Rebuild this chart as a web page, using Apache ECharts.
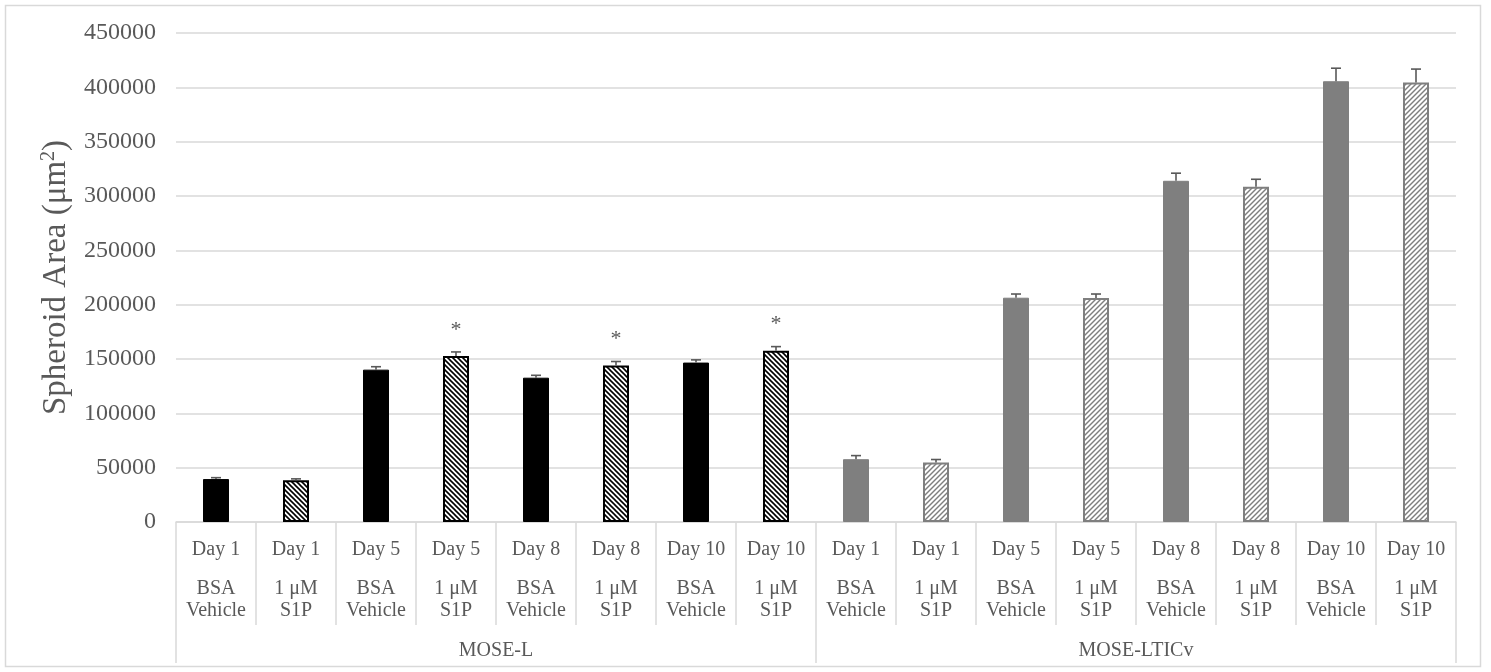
<!DOCTYPE html>
<html>
<head>
<meta charset="utf-8">
<title>Spheroid Area</title>
<script src="https://cdn.jsdelivr.net/npm/echarts@6/dist/echarts.min.js"></script>
<style>
  html, body { margin: 0; padding: 0; background: #fff; }
  #chart { width: 1491px; height: 672px; }
</style>
</head>
<body>
<div id="chart"></div>
<script>
// Spheroid area per day and treatment, for two cell lines
const days = ['Day 1', 'Day 1', 'Day 5', 'Day 5', 'Day 8', 'Day 8', 'Day 10', 'Day 10',
              'Day 1', 'Day 1', 'Day 5', 'Day 5', 'Day 8', 'Day 8', 'Day 10', 'Day 10'];
const treatments = ['BSA\nVehicle', '1 μM\nS1P', 'BSA\nVehicle', '1 μM\nS1P',
                    'BSA\nVehicle', '1 μM\nS1P', 'BSA\nVehicle', '1 μM\nS1P',
                    'BSA\nVehicle', '1 μM\nS1P', 'BSA\nVehicle', '1 μM\nS1P',
                    'BSA\nVehicle', '1 μM\nS1P', 'BSA\nVehicle', '1 μM\nS1P'];
const groups = ['MOSE-L', 'MOSE-LTICv'];
const groupOf = [0, 0, 0, 0, 0, 0, 0, 0, 1, 1, 1, 1, 1, 1, 1, 1];
const isS1P = [false, true, false, true, false, true, false, true,
               false, true, false, true, false, true, false, true];
const areaMean = [39500, 38500, 140200, 152800, 132800, 144000, 146700, 157700,
                  57800, 54700, 206400, 206100, 314000, 308600, 405600, 404400];
const areaErr = [1300, 1200, 2700, 3700, 2200, 3700, 2500, 3700,
                 3300, 2800, 3400, 3700, 7000, 6800, 12000, 12400];
const significant = [false, false, false, true, false, true, false, true,
                     false, false, false, false, false, false, false, false];
const yTicks = { min: 0, max: 450000, interval: 50000 };

const FONT = "'Liberation Serif', 'Times New Roman', serif";
const TEXT = '#595959';
const GRID_LINE = '#d9d9d9';

// diagonal hatch tile; dir 1 = "\" lines, dir -1 = "/" lines
function hatch(color, period, width, dir) {
  const c = document.createElement('canvas');
  c.width = period; c.height = period;
  const g = c.getContext('2d');
  g.fillStyle = '#fff';
  g.fillRect(0, 0, period, period);
  g.strokeStyle = color;
  g.lineWidth = width;
  for (let k = -1; k <= 1; k++) {
    const x0 = k * period;
    g.beginPath();
    if (dir > 0) {
      g.moveTo(x0 - 1, -1);
      g.lineTo(x0 + period + 1, period + 1);
    } else {
      g.moveTo(x0 - 1, period + 1);
      g.lineTo(x0 + period + 1, -1);
    }
    g.stroke();
  }
  return { image: c, repeat: 'repeat' };
}

const styles = [
  { plain: { color: '#000000', borderColor: '#000000', borderWidth: 1 },
    hatched: { color: hatch('#000000', 5, 1.6, 1), borderColor: '#000000', borderWidth: 2 } },
  { plain: { color: '#7f7f7f', borderColor: '#7f7f7f', borderWidth: 1 },
    hatched: { color: hatch('#7f7f7f', 5, 1.4, -1), borderColor: '#7f7f7f', borderWidth: 2 } }
];

const barData = areaMean.map((v, i) => ({
  value: v,
  itemStyle: isS1P[i] ? styles[groupOf[i]].hatched : styles[groupOf[i]].plain
}));

const errData = areaMean.map((v, i) => [i, v, areaErr[i], significant[i] ? 1 : 0]);

const chart = echarts.init(document.getElementById('chart'), null, { renderer: 'canvas' });

chart.setOption({
  backgroundColor: '#ffffff',
  animation: false,
  graphic: [{
    type: 'rect',
    shape: { x: 5.5, y: 5.5, width: 1475, height: 661 },
    style: { fill: 'none', stroke: GRID_LINE, lineWidth: 1.5 },
    silent: true
  }],
  grid: { left: 176, right: 35, top: 33, bottom: 150 },
  xAxis: [{
    type: 'category',
    data: days,
    axisLine: { show: true, lineStyle: { color: GRID_LINE, width: 1.5 } },
    axisTick: { show: true, interval: 0, length: 103, lineStyle: { color: GRID_LINE, width: 1.5 } },
    axisLabel: {
      interval: 0,
      margin: 0,
      formatter: (val, idx) => '{d|' + val + '}\n' +
        treatments[idx].split('\n').map(s => '{t|' + s + '}').join('\n'),
      rich: {
        d: { fontFamily: FONT, fontSize: 20, color: TEXT, lineHeight: 56 },
        t: { fontFamily: FONT, fontSize: 20, color: TEXT, lineHeight: 22 }
      }
    }
  }, {
    type: 'category',
    position: 'bottom',
    data: groups,
    axisLine: { show: false },
    axisTick: { show: true, interval: 0, length: 141, lineStyle: { color: GRID_LINE, width: 1.5 } },
    axisLabel: {
      interval: 0, margin: 119,
      fontFamily: FONT, fontSize: 20, color: TEXT, lineHeight: 20
    }
  }],
  yAxis: {
    type: 'value',
    min: yTicks.min, max: yTicks.max, interval: yTicks.interval,
    name: 'Spheroid Area (μm{sup|2})',
    nameLocation: 'middle',
    nameRotate: 90,
    nameGap: 98,
    nameTextStyle: {
      fontFamily: FONT, fontSize: 33, color: TEXT,
      rich: { sup: { fontFamily: FONT, fontSize: 20, color: TEXT, verticalAlign: 'top', padding: [0, 0, 15, 0] } }
    },
    axisLine: { show: false },
    axisTick: { show: false },
    axisLabel: {
      fontFamily: FONT, fontSize: 24, color: TEXT, margin: 20,
      formatter: v => String(v)
    },
    splitLine: { lineStyle: { color: GRID_LINE, width: 1.5 } }
  },
  series: [{
    type: 'bar',
    xAxisIndex: 0,
    data: barData,
    barWidth: 26,
    z: 2
  }, {
    type: 'custom',
    xAxisIndex: 0,
    data: errData,
    z: 5,
    renderItem: (params, api) => {
      const x = api.value(0);
      const v = api.value(1);
      const e = api.value(2);
      const base = api.coord([x, v]);
      const top = api.coord([x, v + e]);
      const cap = 5;
      const children = [{
        type: 'line',
        shape: { x1: base[0], y1: base[1], x2: top[0], y2: top[1] },
        style: { stroke: TEXT, lineWidth: 1.6 }
      }, {
        type: 'line',
        shape: { x1: top[0] - cap, y1: top[1], x2: top[0] + cap, y2: top[1] },
        style: { stroke: TEXT, lineWidth: 1.6 }
      }];
      if (api.value(3) === 1) {
        children.push({
          type: 'text',
          style: {
            text: '*', x: top[0], y: top[1] - 22,
            align: 'center', verticalAlign: 'middle',
            fontFamily: FONT, fontSize: 22, fill: TEXT
          }
        });
      }
      return { type: 'group', children };
    }
  }]
});
</script>
</body>
</html>
